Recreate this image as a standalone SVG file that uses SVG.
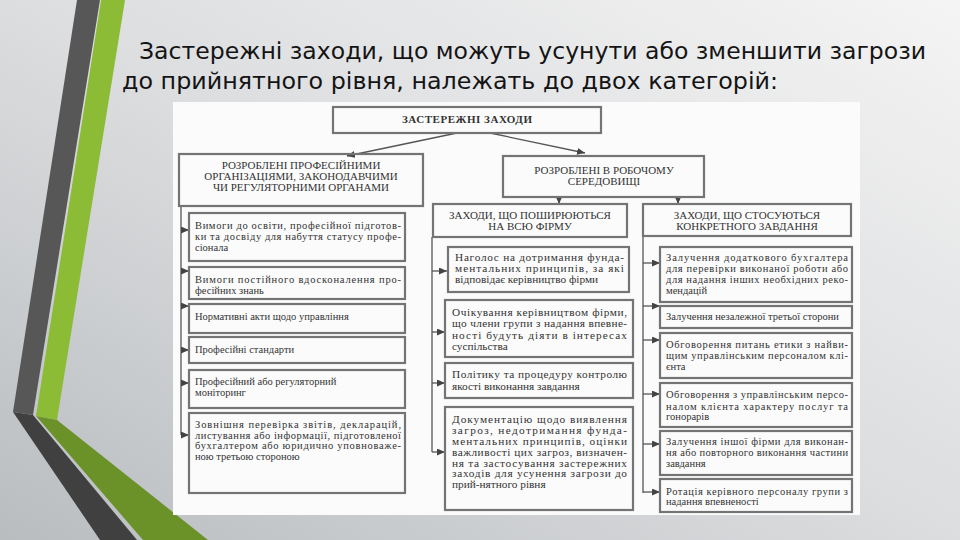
<svg xmlns="http://www.w3.org/2000/svg" width="960" height="540" viewBox="0 0 960 540">
<defs>
<linearGradient id="bg" x1="1" y1="0" x2="0" y2="1">
<stop offset="0" stop-color="#f4f4f4"/>
<stop offset="0.5" stop-color="#dcdddf"/>
<stop offset="1" stop-color="#b9bdc0"/>
</linearGradient>
<marker id="ah" viewBox="0 0 8 7" refX="8" refY="3.5" markerWidth="8" markerHeight="7" markerUnits="userSpaceOnUse" orient="auto">
<path d="M0,0 L8,3.5 L0,7 z" fill="#444"/>
</marker>
<style>
.box{fill:none;stroke:#747474;stroke-width:2.2}
.t{font-family:"Liberation Serif","Times New Roman",serif;font-size:10.5px;fill:#333}
.m{font-size:11.3px}
.h{font-family:"Liberation Serif","Times New Roman",serif;font-size:11px;fill:#333;text-anchor:middle}
.ttl{font-family:"DejaVu Sans","Noto Sans",sans-serif;font-size:22.5px;fill:#141414}
.c{fill:none;stroke:#555;stroke-width:1.3}
</style>
</defs>
<rect width="960" height="540" fill="url(#bg)"/>
<g id="stripes">
<polygon points="77,0 100,0 33,415 13,412" fill="#575757"/>
<polygon points="101,0 125,0 57,420 36,416" fill="#8cbb36"/>
<polygon points="13,412 33,415 137,540 100,540" fill="#404040"/>
<polygon points="36,416 57,420 208,540 143,540" fill="#6a9229"/>
</g>
<g id="title">
<text class="ttl" x="139" y="59" textLength="787" lengthAdjust="spacingAndGlyphs">Застережні заходи, що можуть усунути або зменшити загрози</text>
<text class="ttl" x="122" y="89" textLength="656" lengthAdjust="spacingAndGlyphs">до прийнятного рівня, належать до двох категорій:</text>
</g>
<rect x="173" y="102" width="687" height="413" fill="#fbfbfb"/>
<g id="connectors">
<line class="c" x1="457" y1="133" x2="347" y2="156" marker-end="url(#ah)"/>
<line class="c" x1="490" y1="133" x2="585" y2="153" marker-end="url(#ah)"/>
<line class="c" x1="559" y1="197" x2="559" y2="204" marker-end="url(#ah)"/>
<line class="c" x1="678" y1="197" x2="678" y2="204" marker-end="url(#ah)"/>
<line class="c" x1="181" y1="206" x2="181" y2="435"/>
<line class="c" x1="181" y1="230" x2="189" y2="230" marker-end="url(#ah)"/>
<line class="c" x1="181" y1="271" x2="189" y2="271" marker-end="url(#ah)"/>
<line class="c" x1="181" y1="306" x2="189" y2="306" marker-end="url(#ah)"/>
<line class="c" x1="181" y1="350" x2="189" y2="350" marker-end="url(#ah)"/>
<line class="c" x1="181" y1="383" x2="189" y2="383" marker-end="url(#ah)"/>
<line class="c" x1="181" y1="435" x2="189" y2="435" marker-end="url(#ah)"/>
<line class="c" x1="432" y1="237" x2="432" y2="452"/>
<line class="c" x1="432" y1="271" x2="447" y2="271" marker-end="url(#ah)"/>
<line class="c" x1="432" y1="332" x2="445" y2="332" marker-end="url(#ah)"/>
<line class="c" x1="432" y1="383" x2="445" y2="383" marker-end="url(#ah)"/>
<line class="c" x1="432" y1="452" x2="445" y2="452" marker-end="url(#ah)"/>
<line class="c" x1="643" y1="236" x2="643" y2="493"/>
<line class="c" x1="643" y1="263" x2="660" y2="263" marker-end="url(#ah)"/>
<line class="c" x1="643" y1="306" x2="660" y2="306" marker-end="url(#ah)"/>
<line class="c" x1="643" y1="340" x2="660" y2="340" marker-end="url(#ah)"/>
<line class="c" x1="643" y1="394" x2="660" y2="394" marker-end="url(#ah)"/>
<line class="c" x1="643" y1="444" x2="660" y2="444" marker-end="url(#ah)"/>
<line class="c" x1="643" y1="492" x2="660" y2="492" marker-end="url(#ah)"/>
</g>
<g id="root">
<rect class="box" x="333" y="107" width="268" height="26"/>
<text class="h" x="467" y="123" font-weight="bold" font-size="10" textLength="130" lengthAdjust="spacing">ЗАСТЕРЕЖНІ ЗАХОДИ</text>
</g>
<g id="prof">
<rect class="box" x="179" y="154" width="244" height="52"/>
<text class="h" x="301" y="169">РОЗРОБЛЕНІ ПРОФЕСІЙНИМИ</text>
<text class="h" x="301" y="180">ОРГАНІЗАЦІЯМИ, ЗАКОНОДАВЧИМИ</text>
<text class="h" x="301" y="191">ЧИ РЕГУЛЯТОРНИМИ ОРГАНАМИ</text>
</g>
<g id="work">
<rect class="box" x="503" y="156" width="201" height="41"/>
<text class="h" x="604" y="174">РОЗРОБЛЕНІ В РОБОЧОМУ</text>
<text class="h" x="604" y="185">СЕРЕДОВИЩІ</text>
</g>
<g id="firm">
<rect class="box" x="433" y="204" width="194" height="33"/>
<text class="h" x="530" y="219">ЗАХОДИ, ЩО ПОШИРЮЮТЬСЯ</text>
<text class="h" x="530" y="230">НА ВСЮ ФІРМУ</text>
</g>
<g id="task">
<rect class="box" x="643" y="204" width="208" height="32"/>
<text class="h" x="747" y="219">ЗАХОДИ, ЩО СТОСУЮТЬСЯ</text>
<text class="h" x="747" y="230">КОНКРЕТНОГО ЗАВДАННЯ</text>
</g>
<g id="l1">
<rect class="box" x="189" y="213" width="216" height="48"/>
<text class="t" x="195" y="229" textLength="206" lengthAdjust="spacing">Вимоги до освіти, професійної підготов-</text>
<text class="t" x="195" y="240" textLength="206" lengthAdjust="spacing">ки та досвіду для набуття статусу профе-</text>
<text class="t" x="195" y="251">сіонала</text>
</g>
<g id="l2">
<rect class="box" x="189" y="267" width="216" height="32"/>
<text class="t" x="195" y="283" textLength="206" lengthAdjust="spacing">Вимоги постійного вдосконалення про-</text>
<text class="t" x="195" y="294">фесійних знань</text>
</g>
<g id="l3">
<rect class="box" x="189" y="304" width="216" height="29"/>
<text class="t" x="195" y="320">Нормативні акти щодо управління</text>
</g>
<g id="l4">
<rect class="box" x="189" y="337" width="216" height="26"/>
<text class="t" x="195" y="353">Професійні стандарти</text>
</g>
<g id="l5">
<rect class="box" x="189" y="370" width="216" height="38"/>
<text class="t" x="195" y="385">Професійний або регуляторний</text>
<text class="t" x="195" y="396">моніторинг</text>
</g>
<g id="l6">
<rect class="box" x="189" y="413" width="216" height="80"/>
<text class="t" x="195" y="428" textLength="206" lengthAdjust="spacing">Зовнішня перевірка звітів, декларацій,</text>
<text class="t" x="195" y="438.5" textLength="206" lengthAdjust="spacing">листування або інформації, підготовленої</text>
<text class="t" x="195" y="449" textLength="206" lengthAdjust="spacing">бухгалтером або юридично уповноваже-</text>
<text class="t" x="195" y="459.5">ною третьою стороною</text>
</g>
<g id="m1">
<rect class="box" x="448" y="247" width="181" height="45"/>
<text class="t m" x="455" y="261" textLength="169" lengthAdjust="spacing">Наголос на дотримання фунда-</text>
<text class="t m" x="455" y="272" textLength="169" lengthAdjust="spacing">ментальних принципів, за які</text>
<text class="t m" x="455" y="283">відповідає керівництво фірми</text>
</g>
<g id="m2">
<rect class="box" x="445" y="300" width="188" height="57"/>
<text class="t m" x="452" y="316" textLength="175" lengthAdjust="spacing">Очікування керівництвом фірми,</text>
<text class="t m" x="452" y="327" textLength="175" lengthAdjust="spacing">що члени групи з надання впевне-</text>
<text class="t m" x="452" y="338.5" textLength="175" lengthAdjust="spacing">ності будуть діяти в інтересах</text>
<text class="t m" x="452" y="350">суспільства</text>
</g>
<g id="m3">
<rect class="box" x="445" y="363" width="188" height="35"/>
<text class="t m" x="452" y="378" textLength="175" lengthAdjust="spacing">Політику та процедуру контролю</text>
<text class="t m" x="452" y="390">якості виконання завдання</text>
</g>
<g id="m4">
<rect class="box" x="445" y="407" width="188" height="103"/>
<text class="t m" x="452" y="423" textLength="175" lengthAdjust="spacing">Документацію щодо виявлення</text>
<text class="t m" x="452" y="434" textLength="175" lengthAdjust="spacing">загроз, недотримання фунда-</text>
<text class="t m" x="452" y="445" textLength="175" lengthAdjust="spacing">ментальних принципів, оцінки</text>
<text class="t m" x="452" y="456" textLength="175" lengthAdjust="spacing">важливості цих загроз, визначен-</text>
<text class="t m" x="452" y="466.5" textLength="175" lengthAdjust="spacing">ня та застосування застережних</text>
<text class="t m" x="452" y="477" textLength="175" lengthAdjust="spacing">заходів для усунення загрози до</text>
<text class="t m" x="452" y="488">прий-нятного рівня</text>
</g>
<g id="r1">
<rect class="box" x="660" y="247" width="192" height="55"/>
<text class="t" x="666" y="261" textLength="182" lengthAdjust="spacing">Залучення додаткового бухгалтера</text>
<text class="t" x="666" y="272" textLength="182" lengthAdjust="spacing">для перевірки виконаної роботи або</text>
<text class="t" x="666" y="283" textLength="182" lengthAdjust="spacing">для надання інших необхідних реко-</text>
<text class="t" x="666" y="293.5">мендацій</text>
</g>
<g id="r2">
<rect class="box" x="660" y="306" width="192" height="22"/>
<text class="t" x="666" y="320">Залучення незалежної третьої сторони</text>
</g>
<g id="r3">
<rect class="box" x="660" y="333" width="192" height="45"/>
<text class="t" x="666" y="348" textLength="182" lengthAdjust="spacing">Обговорення питань етики з найви-</text>
<text class="t" x="666" y="359" textLength="182" lengthAdjust="spacing">щим управлінським персоналом клі-</text>
<text class="t" x="666" y="370">єнта</text>
</g>
<g id="r4">
<rect class="box" x="660" y="383" width="192" height="44"/>
<text class="t" x="666" y="398" textLength="182" lengthAdjust="spacing">Обговорення з управлінським персо-</text>
<text class="t" x="666" y="409.5" textLength="182" lengthAdjust="spacing">налом клієнта характеру послуг та</text>
<text class="t" x="666" y="420">гонорарів</text>
</g>
<g id="r5">
<rect class="box" x="660" y="431" width="192" height="44"/>
<text class="t" x="666" y="445" textLength="182" lengthAdjust="spacing">Залучення іншої фірми для виконан-</text>
<text class="t" x="666" y="456" textLength="182" lengthAdjust="spacing">ня або повторного виконання частини</text>
<text class="t" x="666" y="466.5">завдання</text>
</g>
<g id="r6">
<rect class="box" x="660" y="479" width="192" height="33"/>
<text class="t" x="666" y="494.5" textLength="182" lengthAdjust="spacing">Ротація керівного персоналу групи з</text>
<text class="t" x="666" y="505">надання впевненості</text>
</g>
</svg>
